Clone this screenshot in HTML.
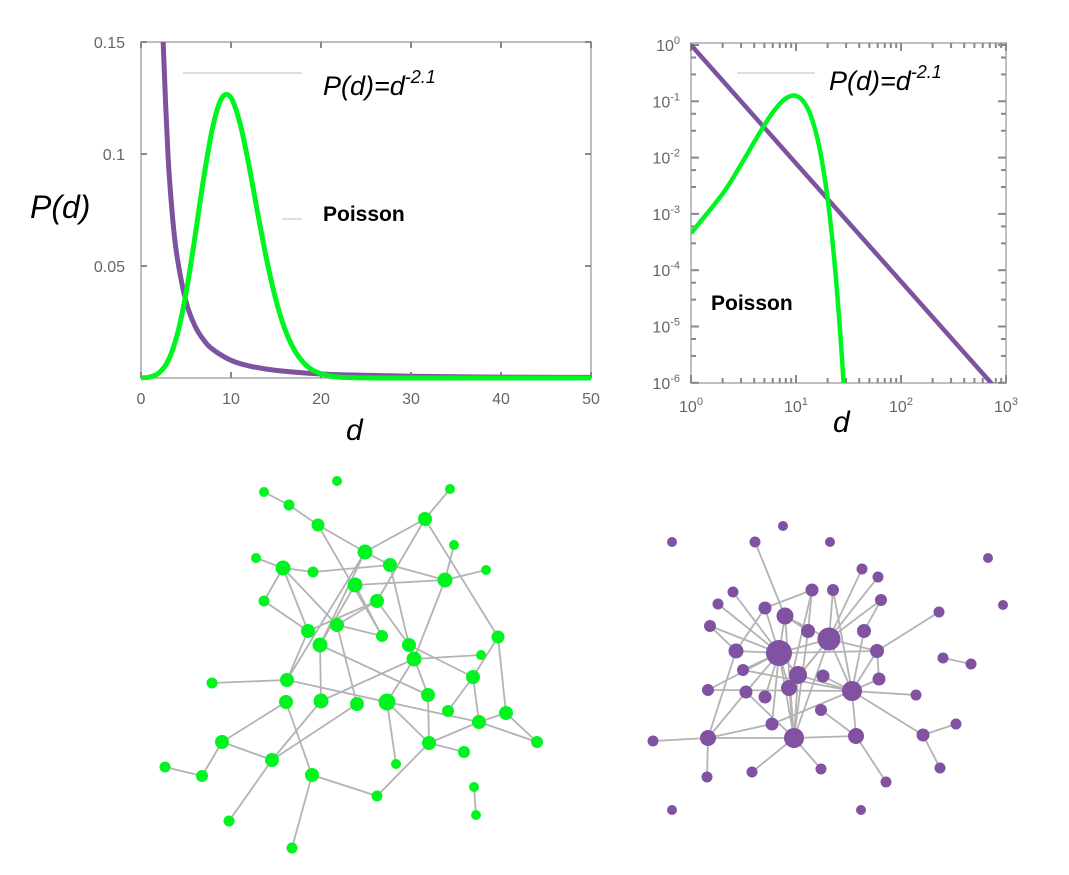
<!DOCTYPE html>
<html><head><meta charset="utf-8"><style>
html,body{margin:0;padding:0;background:#fff;}
svg{display:block;font-family:"Liberation Sans",sans-serif;}
.tl{fill:#666;font-size:16px;}
</style></head><body>
<svg id="s" width="1069" height="875" viewBox="0 0 1069 875">
<defs>
<clipPath id="cl"><rect x="141" y="42" width="450" height="336"/></clipPath>
<clipPath id="cr"><rect x="691" y="43" width="315" height="340"/></clipPath>
</defs>
<g id="left"></g>
<g id="right"></g>
<g id="gnet"></g>
<g id="pnet"></g>
</svg>
<script>
// ---- left (linear) chart data ----
const linXTicks = [0,10,20,30,40,50];
const linYTicks = [0.05,0.1,0.15];
const linYTickLabels = ["0.05","0.1","0.15"];
const poissonD = [0,1,2,3,4,5,6,7,8,9,10,11,12,13,14,15,16,17,18,19,20,21,22,23,24,25,30,40,50];
const poissonV = [0.00005,0.00045,0.0023,0.0076,0.0189,0.0378,0.0631,0.0901,0.1126,0.1251,0.1251,0.1137,0.0948,0.0729,0.0521,0.0347,0.0217,0.0128,0.0071,0.0037,0.0019,0.0009,0.0004,0.0002,0.0001,0.00003,0,0,0];
const powerD = [2.3,2.5,3,3.5,4,5,6,7,8,10,12,15,20,25,30,40,50];
const powerV = [0.174,0.146,0.0995,0.072,0.0544,0.0341,0.0232,0.0168,0.0127,0.0079,0.0054,0.0034,0.0018,0.0012,0.0008,0.0004,0.0003];
// ---- right (log) chart data ----
const logXDecades = [0,1,2,3];
const logYDecades = [0,-1,-2,-3,-4,-5,-6];
const logPoissonD = [1,2,3,4,5,6,7,8,9,10,11,12,13,14,15,16,17,18,19,20,21,22,23,24,25,26,27,28,29];
const logPoissonV = [4.54e-4,2.27e-3,7.57e-3,1.89e-2,3.78e-2,6.31e-2,9.01e-2,0.1126,0.1251,0.1251,0.1137,0.0948,0.0729,0.0521,0.0347,0.0217,0.0128,0.0071,0.0037,0.0019,8.9e-4,4.05e-4,1.76e-4,7.3e-5,2.9e-5,1.1e-5,4.1e-6,1.5e-6,5e-7];
const logPowerD = [1,10,100,1000];
const logPowerV = [1,0.0079,6.3e-5,5e-7];

const NS="http://www.w3.org/2000/svg";
function mk(parent,tag,attrs,text){const e=document.createElementNS(NS,tag);for(const k in attrs)e.setAttribute(k,attrs[k]);if(text!==undefined)e.textContent=text;parent.appendChild(e);return e;}
function smooth(pts){
  let d='M'+pts[0][0]+','+pts[0][1];
  for(let i=0;i<pts.length-1;i++){
    const p0=pts[Math.max(i-1,0)],p1=pts[i],p2=pts[i+1],p3=pts[Math.min(i+2,pts.length-1)];
    const c1x=p1[0]+(p2[0]-p0[0])/6,c1y=p1[1]+(p2[1]-p0[1])/6;
    const c2x=p2[0]-(p3[0]-p1[0])/6,c2y=p2[1]-(p3[1]-p1[1])/6;
    d+='C'+c1x+','+c1y+' '+c2x+','+c2y+' '+p2[0]+','+p2[1];
  }
  return d;
}

const GREEN="#00f520", PURPLE="#7f52a0";
// ---- left chart ----
const L=document.getElementById('left');
const lx=d=>141+d*9, ly=v=>378-v/0.15*336;
let r=mk(L,'rect',{x:141,y:42,width:450,height:336,fill:'none',stroke:'#aaa','stroke-width':1.5});

linXTicks.forEach(t=>{
  mk(L,'line',{x1:lx(t),x2:lx(t),y1:378,y2:372,stroke:'#888','stroke-width':2});
  mk(L,'line',{x1:lx(t),x2:lx(t),y1:42,y2:48,stroke:'#888','stroke-width':2});
  const tx=mk(L,'text',{x:lx(t),y:404,'text-anchor':'middle',class:'tl'},String(t));
  
});
linYTicks.forEach((t,i)=>{
  mk(L,'line',{x1:141,x2:147,y1:ly(t),y2:ly(t),stroke:'#888','stroke-width':2});
  mk(L,'line',{x1:591,x2:585,y1:ly(t),y2:ly(t),stroke:'#888','stroke-width':2});
  const tx=mk(L,'text',{x:125,y:ly(t)+6,'text-anchor':'end',class:'tl'},linYTickLabels[i]);
  
});
let p=mk(L,'path',{d:smooth(powerD.map((d,i)=>[lx(d),ly(powerV[i])])),fill:'none',stroke:PURPLE,'stroke-width':5,'clip-path':'url(#cl)','stroke-linejoin':'round'});

p=mk(L,'path',{d:smooth(poissonD.map((d,i)=>[lx(d),ly(poissonV[i])])),fill:'none',stroke:GREEN,'stroke-width':5,'stroke-linejoin':'round'});

let t=mk(L,'text',{x:30,y:218,'font-size':32,'font-style':'italic',fill:'#000'},'P(d)');

t=mk(L,'text',{x:346,y:440,'font-size':30,'font-style':'italic',fill:'#000'},'d');

mk(L,'line',{x1:183,x2:302,y1:73,y2:73,stroke:'#bbb','stroke-width':1});
t=mk(L,'text',{x:323,y:95,'font-size':27,'font-style':'italic',fill:'#000'});
t.innerHTML='P(d)=d<tspan dy="-12" font-size="18">-2.1</tspan>';

mk(L,'line',{x1:282,x2:302,y1:219,y2:219,stroke:'#bbb','stroke-width':1});
t=mk(L,'text',{x:323,y:221,'font-size':21,'font-weight':'bold',fill:'#000'},'Poisson');


// ---- right chart ----
const R=document.getElementById('right');
const rx=d=>691+Math.log10(d)*105, ry=v=>45-Math.log10(v)*56.3;
r=mk(R,'rect',{x:691,y:43,width:315,height:340,fill:'none',stroke:'#aaa','stroke-width':1.5});

logXDecades.forEach(k=>{
  const x=rx(Math.pow(10,k));
  mk(R,'line',{x1:x,x2:x,y1:383,y2:375,stroke:'#888','stroke-width':2});
  mk(R,'line',{x1:x,x2:x,y1:43,y2:51,stroke:'#888','stroke-width':2});
  for(let m=2;m<10&&k<3;m++){const xm=rx(m*Math.pow(10,k));if(xm>1006)break;
    mk(R,'line',{x1:xm,x2:xm,y1:383,y2:378,stroke:'#888','stroke-width':2});
    mk(R,'line',{x1:xm,x2:xm,y1:43,y2:48,stroke:'#888','stroke-width':2});}
  const tx=mk(R,'text',{x:x,y:412,'text-anchor':'middle',class:'tl'});
  tx.innerHTML='10<tspan dy="-7" font-size="11">'+k+'</tspan>';
  
});
logYDecades.forEach(k=>{
  const y=ry(Math.pow(10,k));
  mk(R,'line',{x1:691,x2:699,y1:y,y2:y,stroke:'#888','stroke-width':2});
  mk(R,'line',{x1:1006,x2:998,y1:y,y2:y,stroke:'#888','stroke-width':2});
  if(k>-6){[3,6].forEach(m=>{const ym=ry(m*Math.pow(10,k-1));
    mk(R,'line',{x1:691,x2:696,y1:ym,y2:ym,stroke:'#888','stroke-width':2});
    mk(R,'line',{x1:1006,x2:1001,y1:ym,y2:ym,stroke:'#888','stroke-width':2});});}
  const tx=mk(R,'text',{x:680,y:y+6,'text-anchor':'end',class:'tl'});
  tx.innerHTML='10<tspan dy="-7" font-size="11">'+k+'</tspan>';
  
});
p=mk(R,'path',{d:'M'+logPowerD.map((d,i)=>rx(d)+','+ry(logPowerV[i])).join('L'),fill:'none',stroke:PURPLE,'stroke-width':4.5,'clip-path':'url(#cr)'});

p=mk(R,'path',{d:smooth(logPoissonD.map((d,i)=>[rx(d),ry(logPoissonV[i])])),fill:'none',stroke:GREEN,'stroke-width':4.5,'clip-path':'url(#cr)','stroke-linejoin':'round'});

mk(R,'line',{x1:737,x2:815,y1:73,y2:73,stroke:'#bbb','stroke-width':1});
t=mk(R,'text',{x:829,y:90,'font-size':27,'font-style':'italic',fill:'#000'});
t.innerHTML='P(d)=d<tspan dy="-12" font-size="18">-2.1</tspan>';

t=mk(R,'text',{x:711,y:310,'font-size':21,'font-weight':'bold',fill:'#000'},'Poisson');

t=mk(R,'text',{x:833,y:432,'font-size':30,'font-style':'italic',fill:'#000'},'d');


// ---- networks ----
function drawNet(g,nodes,edges,color){
  edges.split(' ').forEach(e=>{const [a,b]=e.split('-');const A=nodes[a],B=nodes[b];
    const l=mk(g,'line',{x1:A[0],y1:A[1],x2:B[0],y2:B[1],stroke:'#b3b3b3','stroke-width':1.8});
    });
  for(const k in nodes){const n=nodes[k];
    const c=mk(g,'circle',{cx:n[0],cy:n[1],r:n[2],fill:color});
    }
}
const gN={A:[264,492,5],B:[289,505,5.5],C:[318,525,6.5],D:[337,481,5],E:[450,489,5],F:[425,519,7],G:[365,552,7.5],H:[256,558,5],I:[283,568,7.5],J:[313,572,5.5],K:[390,565,7],L:[454,545,5],M:[445,580,7.5],N:[486,570,5],O:[355,585,7.5],P:[377,601,7],Q:[264,601,5.5],R:[337,625,7],S:[382,636,6],T:[308,631,7],U:[320,645,7.5],V:[409,645,7],W:[414,659,7.5],X:[498,637,6.5],Y:[481,655,5],Z:[473,677,7],
a:[212,683,5.5],b:[287,680,7],c:[286,702,7],d:[321,701,7.5],e:[357,704,7],f:[387,702,8.5],g:[428,695,7],h:[448,711,6],i:[479,722,7],j:[506,713,7],k:[537,742,6],l:[222,742,7],m:[272,760,7],n:[165,767,5.5],o:[202,776,6],p:[312,775,7],q:[429,743,7],r:[464,752,6],s:[396,764,5],t:[377,796,5.5],u:[474,787,5],v:[476,815,5],w:[229,821,5.5],x:[292,848,5.5]};
const gE="A-B B-C C-G C-S F-E F-G F-X F-P G-K G-U G-b H-I I-J J-K I-Q Q-T I-T I-R O-M O-S O-U R-e K-V K-M L-M M-W W-f N-M P-T P-R P-V R-S T-b U-d U-g V-W W-Y V-Z V-g X-Z X-j Z-h Z-i a-b b-f f-i W-d c-l c-p l-m l-o o-n m-w m-d m-e p-x p-t t-q q-g q-r q-i f-q f-s i-j j-k i-k u-v";
drawNet(document.getElementById('gnet'),gN,gE,GREEN);
const pN={1:[672,542,5],2:[755,542,5.5],3:[783,526,5],4:[830,542,5],5:[988,558,5],6:[862,569,5.5],7:[878,577,5.5],8:[733,592,5.5],9:[812,590,6.5],10:[833,590,6],11:[718,604,5.5],12:[881,600,6],13:[765,608,6.5],14:[785,616,8.5],15:[939,612,5.5],16:[1003,605,5],17:[710,626,6],18:[808,631,7],19:[829,639,11.5],20:[864,631,7],21:[736,651,7.5],22:[779,653,13],23:[877,651,7],24:[943,658,5.5],25:[971,664,5.5],26:[743,670,6],27:[798,675,9],28:[823,676,6.5],29:[879,679,6.5],30:[708,690,6],31:[746,692,6.5],32:[765,697,6.5],33:[789,688,8],34:[852,691,10],35:[916,695,5.5],36:[821,710,6],37:[772,724,6.5],38:[956,724,5.5],39:[653,741,5.5],40:[708,738,8],41:[794,738,10],42:[856,736,8],43:[923,735,6.5],44:[707,777,5.5],45:[752,772,5.5],46:[821,769,5.5],47:[886,782,5.5],48:[940,768,5.5],49:[672,810,5],50:[861,810,5]};
const pE="2-14 9-13 9-18 10-19 10-34 6-19 7-19 12-19 12-20 15-23 24-25 8-22 11-22 17-22 17-21 13-22 13-21 14-22 14-18 14-41 14-19 18-41 19-22 19-23 19-33 19-41 19-34 20-34 21-22 21-40 22-26 22-27 22-30 22-31 22-32 22-41 22-33 22-37 22-23 23-29 23-34 27-34 26-34 28-34 29-34 30-34 31-40 31-41 33-41 34-35 34-37 34-42 34-43 36-42 37-40 40-41 41-42 40-39 40-44 41-45 41-46 42-47 43-38 43-48 9-33 27-41";
drawNet(document.getElementById('pnet'),pN,pE,"#8152a2");
</script>
</body></html>
